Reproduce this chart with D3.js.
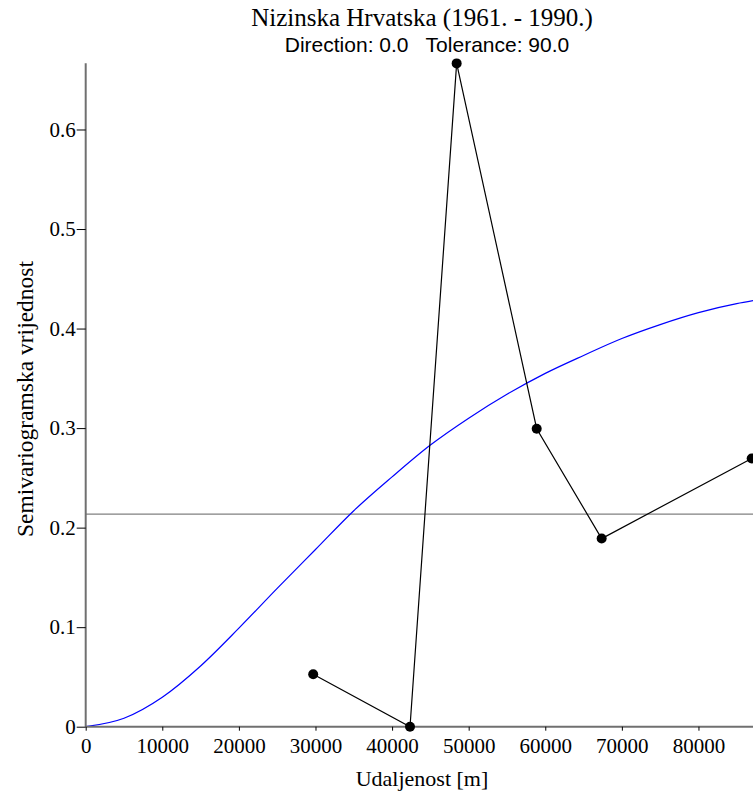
<!DOCTYPE html>
<html><head><meta charset="utf-8">
<script src="https://cdn.jsdelivr.net/npm/d3@7"></script>
<style>body{margin:0;background:#fff}svg{display:block}text{white-space:pre}</style>
</head><body>
<script>
// Experimental semivariogram (lag distance [m], semivariance)
const lagDistance = [29700, 42340, 48430, 58880, 67360, 86950];
const semivariance = [0.0527, 0.0, 0.6664, 0.2994, 0.189, 0.2695];
// Model curve samples
const modelDistance = [0, 5000, 10000, 15000, 20000, 25000, 30000, 35000, 40000, 45000, 50000, 55000, 60000, 65000, 70000, 75000, 80000, 85000, 87150];
const modelValue = [0, 0.0085, 0.0296, 0.061, 0.099, 0.139, 0.178, 0.217, 0.251, 0.283, 0.310, 0.334, 0.355, 0.373, 0.390, 0.404, 0.416, 0.425, 0.428];
const sampleVariance = 0.2136;
const xTicks = [0, 10000, 20000, 30000, 40000, 50000, 60000, 70000, 80000];
const yTicks = [0, 0.1, 0.2, 0.3, 0.4, 0.5, 0.6];
const yTickLabels = ["0", "0.1", "0.2", "0.3", "0.4", "0.5", "0.6"];
const title = "Nizinska Hrvatska (1961. - 1990.)";
const subtitle = "Direction: 0.0   Tolerance: 90.0";
const xLabel = "Udaljenost [m]";
const yLabel = "Semivariogramska vrijednost";

const W = 753, H = 796;
const m = {left: 85.7, right: 0, top: 63.3, bottom: 69.3};
const svg = d3.select("body").append("svg").attr("width", W).attr("height", H);
const x = d3.scaleLinear().domain([0, 87120]).range([m.left, W - m.right]);
const y = d3.scaleLinear().domain([0, 0.6665]).range([H - m.bottom, m.top]);
const serif = "'Liberation Serif','Times New Roman',serif";
const sans = "'Liberation Sans',Arial,sans-serif";

// sample variance line
svg.append("line").attr("x1", x(0)).attr("x2", W).attr("y1", y(sampleVariance)).attr("y2", y(sampleVariance))
  .attr("stroke", "#808080").attr("stroke-width", 1.2);

// model curve
const pts = modelDistance.map((d, i) => [d, modelValue[i]]);
svg.append("path").datum(pts)
  .attr("d", d3.line().x(d => x(d[0])).y(d => y(d[1])).curve(d3.curveMonotoneX))
  .attr("fill", "none").attr("stroke", "#0000ff").attr("stroke-width", 1.2);

// experimental
const ep = lagDistance.map((d, i) => [d, semivariance[i]]);
svg.append("path").datum(ep)
  .attr("d", d3.line().x(d => x(d[0])).y(d => y(d[1])))
  .attr("fill", "none").attr("stroke", "#000").attr("stroke-width", 1.2);

// axes
const xa = svg.append("g").attr("transform", `translate(0,${y(0)})`)
  .call(d3.axisBottom(x).tickValues(xTicks).tickFormat(d3.format("d")).tickSize(4).tickSizeOuter(0));
const ya = svg.append("g").attr("transform", `translate(${x(0)},0)`)
  .call(d3.axisLeft(y).tickValues(yTicks).tickFormat((d, i) => yTickLabels[i]).tickSize(9).tickSizeOuter(0));
[xa, ya].forEach(g => {
  g.select(".domain").attr("stroke", "#707070").attr("stroke-width", 2);
  g.selectAll(".tick line").attr("stroke", "#000").attr("stroke-width", 1);
  g.selectAll(".tick text").attr("font-family", serif).attr("font-size", 21).attr("fill", "#000");
});
xa.select(".domain").attr("d", `M${x(0)},0H${W}`);
ya.select(".domain").attr("d", `M0,${y(0)}V${m.top}`);
xa.selectAll(".tick text").attr("dy", "0.95em").attr("y", 6);
ya.selectAll(".tick text").attr("x", -10);

svg.selectAll(".dot").data(ep).join("circle").attr("class", "dot")
  .attr("cx", d => x(d[0])).attr("cy", d => y(d[1])).attr("r", 5).attr("fill", "#000");

// titles
svg.append("text").attr("x", 422).attr("y", 26).attr("text-anchor", "middle")
  .attr("font-family", serif).attr("font-size", 25).text(title);
svg.append("text").attr("x", 427).attr("y", 52).attr("text-anchor", "middle")
  .attr("font-family", sans).attr("font-size", 21).text(subtitle);
svg.append("text").attr("x", 422).attr("y", 786).attr("text-anchor", "middle")
  .attr("font-family", serif).attr("font-size", 22).text(xLabel);
svg.append("text").attr("transform", `translate(33,399) rotate(-90)`).attr("text-anchor", "middle")
  .attr("font-family", serif).attr("font-size", 23.5).text(yLabel);
</script>
</body></html>
